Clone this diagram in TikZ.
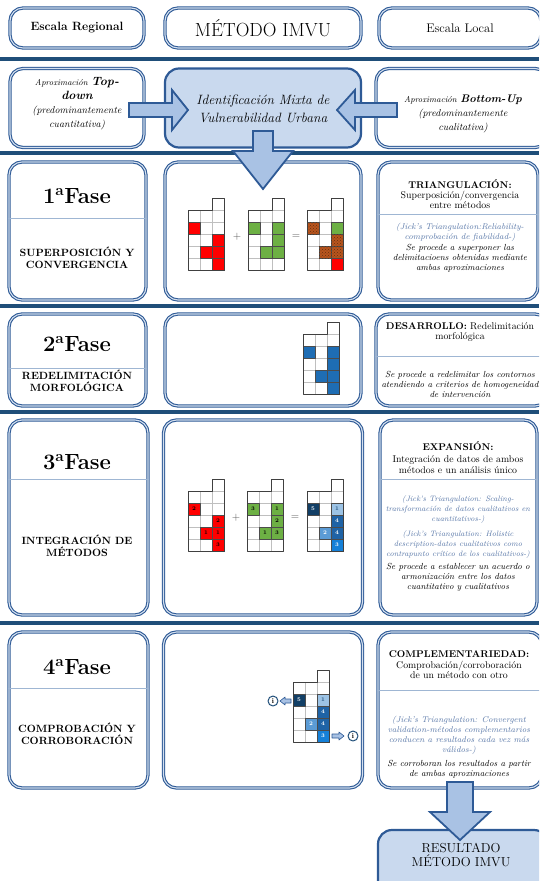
\documentclass[tikz,border=0pt]{standalone}
\usepackage{fontspec}
\usetikzlibrary{patterns}

\definecolor{linea}{HTML}{1F4E79}
\definecolor{borde}{HTML}{2E5A96}
\definecolor{dobleazul}{HTML}{D5E0EF}
\definecolor{relleno}{HTML}{C9D9EE}
\definecolor{flecha}{HTML}{A9C2E4}
\definecolor{sepgris}{HTML}{9FB6D3}
\definecolor{jick}{HTML}{5877A8}
\definecolor{rojo}{HTML}{FF0000}
\definecolor{verdec}{HTML}{6DB044}
\definecolor{cafe}{HTML}{B8551E}
\definecolor{azulf}{HTML}{1E6DB4}
\definecolor{azul5}{HTML}{123F66}
\definecolor{azul1}{HTML}{9CC3E5}
\definecolor{azul4}{HTML}{1F63A6}
\definecolor{azul2}{HTML}{5B9BD5}
\definecolor{azul3}{HTML}{1580D8}

\newcommand{\fsz}[2]{\fontsize{#1}{#2}\selectfont}

% rejilla de celdas: origen x, origen y, lista col/fila/estilo/numero/color
\newcommand{\rejilla}[3]{%
  \draw[gris] (#1+12,#2) -- (#1+12,#2+60) (#1+24,#2-12) -- (#1+24,#2+60);
  \foreach \k in {1,...,4} \draw[gris] (#1,#2+12*\k) -- (#1+36,#2+12*\k);
  \draw[gris] (#1+24,#2) -- (#1+36,#2);
  \foreach \ci/\cj/\col/\num/\tcol in {#3}{
    \draw[\col, celdaborde] (#1+12*\ci-12,#2+12*\cj-12) rectangle ++(12,12);
    \node[numcelda, text=\tcol] (n#1-\ci-\cj) at (#1+12*\ci-6,#2+12*\cj-6) {\num};
  }
  \draw[contorno] (#1,#2) -- (#1+24,#2) -- (#1+24,#2-12) -- (#1+36,#2-12)
    -- (#1+36,#2+60) -- (#1,#2+60) -- cycle;
}

\begin{document}
\begin{tikzpicture}[x=1pt, y=-1pt, line join=round]

\tikzstyle{caja}=[draw=borde, line width=1.1pt, double=dobleazul, double distance=1.1pt, rounded corners=13pt, fill=white, inner sep=0pt]
\tikzstyle{cajallena}=[draw=borde, line width=2.2pt, rounded corners=14pt, fill=relleno, inner sep=0pt]
\tikzstyle{franja}=[draw=linea, line width=3.5pt]
\tikzstyle{separa}=[draw=sepgris, line width=0.6pt]
\tikzstyle{bloque}=[fill=flecha, draw=borde, line width=1.8pt, line join=miter]
\tikzstyle{fase}=[font=\fsz{22}{24}\bfseries]
\tikzstyle{faseinf}=[font=\fsz{10.5}{11.5}\bfseries, align=center]
\tikzstyle{titulo}=[font=\fsz{9.8}{10}, align=center]
\tikzstyle{jicktxt}=[font=\fsz{8.4}{10}\itshape, text=jick, align=center]
\tikzstyle{nota}=[font=\fsz{8.8}{10}\itshape, align=center]
\tikzstyle{gris}=[draw=black!25, line width=0.4pt]
\tikzstyle{contorno}=[draw=black!75, line width=0.8pt]
\tikzstyle{celdaborde}=[draw=black!70, line width=0.5pt]
\tikzstyle{numcelda}=[font=\fsz{5.5}{6}\bfseries, inner sep=0pt]
\tikzstyle{signo}=[font=\fsz{11}{12}, text=black!70]
\tikzstyle{roja}=[fill=rojo]
\tikzstyle{verde}=[fill=verdec]
\tikzstyle{marron}=[fill=cafe, postaction={pattern=crosshatch dots, pattern color=cafe!55!black}]
\tikzstyle{azfase}=[fill=azulf]
\tikzstyle{azcinco}=[fill=azul5]
\tikzstyle{azuno}=[fill=azul1]
\tikzstyle{azcuatro}=[fill=azul4]
\tikzstyle{azdos}=[fill=azul2]
\tikzstyle{aztres}=[fill=azul3]
\tikzstyle{info}=[circle, draw=linea, line width=1pt, fill=white, minimum size=10pt, inner sep=0pt, font=\fsz{7}{7}\bfseries]

\useasboundingbox (0,0) rectangle (539,881);
\clip (0,0) rectangle (539,881);

% cabecera
\node[caja, minimum width=134, minimum height=40] (regional) at (77,28) {};
\node[caja, minimum width=196, minimum height=40] (metodo)   at (263,28) {};
\node[caja, minimum width=162, minimum height=40] (local)    at (460,28) {};
\node[font=\fsz{12}{14}\bfseries] (tregional) at (regional) {Escala Regional};
\node[font=\fsz{19}{21}]          (tmetodo)   at (metodo)   {MÉTODO IMVU};
\node[font=\fsz{12.5}{14}]        (tlocal)    at (local)    {Escala Local};

\draw[franja] (0,59) -- (539,59);
\draw[franja] (0,153) -- (539,153);
\draw[franja] (0,306) -- (539,306);
\draw[franja] (0,412) -- (539,412);
\draw[franja] (0,623) -- (539,623);

% aproximaciones
\node[caja, minimum width=134, minimum height=79] (topdown)  at (77,108) {};
\node[caja, minimum width=172, minimum height=79] (bottomup) at (462,108) {};
\node[cajallena, minimum width=196, minimum height=79] (mixta) at (263,108) {};

\draw[bloque] (129,103) -- (172,103) -- (172,90) -- (188,110) -- (172,130)
  -- (172,117) -- (129,117) -- cycle;
\draw[bloque] (397,103) -- (355,103) -- (355,90) -- (337,110) -- (355,130)
  -- (355,117) -- (397,117) -- cycle;

\node[font=\fsz{10}{14}\itshape, align=center] (ttopdown) at (77,104)
  {{\fsz{8.5}{14}Aproximación} {\fsz{12}{14}\bfseries Top-}\\{\fsz{12}{14}\bfseries down}\\(predominantemente\\cuantitativa)};
\node[font=\fsz{13.5}{18}\itshape, align=center] (tmixta) at (263,109)
  {Identificación Mixta de\\Vulnerabilidad Urbana};
\node[font=\fsz{10}{14}\itshape, align=center] (tbottomup) at (463,114)
  {{\fsz{8.5}{14}Aproximación} {\fsz{11}{14}\bfseries Bottom-Up}\\(predominantemente\\cualitativa)};

% fases: columna izquierda
\node[caja, minimum width=137, minimum height=138] (fase1) at (77.5,231) {};
\node[caja, minimum width=137, minimum height=92]  (fase2) at (77.5,360) {};
\node[caja, minimum width=139, minimum height=195] (fase3) at (78.5,517.5) {};
\node[caja, minimum width=139, minimum height=156] (fase4) at (78.5,710) {};

% columna central
\node[caja, minimum width=196, minimum height=138] (graf1) at (263,231) {};
\node[caja, minimum width=196, minimum height=92]  (graf2) at (263,360) {};
\node[caja, minimum width=199, minimum height=195] (graf3) at (263,517.5) {};
\node[caja, minimum width=199, minimum height=156] (graf4) at (263,710) {};

% columna derecha
\node[caja, minimum width=160, minimum height=138] (der1) at (458,231) {};
\node[caja, minimum width=172, minimum height=92]  (der2) at (462,360) {};
\node[caja, minimum width=157, minimum height=195] (der3) at (458.5,517.5) {};
\node[caja, minimum width=164, minimum height=156] (der4) at (460,710) {};

% separadores
\draw[separa] (fase1.west |- 0,218) -- (fase1.east |- 0,218);
\draw[separa] (fase2.west |- 0,368) -- (fase2.east |- 0,368);
\draw[separa] (fase3.west |- 0,479) -- (fase3.east |- 0,479);
\draw[separa] (fase4.west |- 0,688) -- (fase4.east |- 0,688);
\draw[separa] (der1.west |- 0,214) -- (der1.east |- 0,214);
\draw[separa] (der2.west |- 0,356) -- (der2.east |- 0,356);
\draw[separa] (der3.west |- 0,479) -- (der3.east |- 0,479);
\draw[separa] (der4.west |- 0,690) -- (der4.east |- 0,690);

% textos izquierda
\node[fase] (tf1) at (77,196) {1\textsuperscript{a}Fase};
\node[faseinf] (sf1) at (77,258) {SUPERPOSICIÓN Y\\CONVERGENCIA};
\node[fase] (tf2) at (77,344) {2\textsuperscript{a}Fase};
\node[faseinf] (sf2) at (77,381) {REDELIMITACIÓN\\MORFOLÓGICA};
\node[fase] (tf3) at (77,462) {3\textsuperscript{a}Fase};
\node[faseinf] (sf3) at (77,546) {INTEGRACIÓN DE\\MÉTODOS};
\node[fase] (tf4) at (77,667) {4\textsuperscript{a}Fase};
\node[faseinf] (sf4) at (77,734) {COMPROBACIÓN Y\\CORROBORACIÓN};

% textos derecha
\node[titulo] (h1) at (460,194) {\textbf{TRIANGULACIÓN:}\\Superposición/convergencia\\entre métodos};
\node[jicktxt] (j1) at (460,232) {(Jick's Triangulation:Reliability-\\comprobación de fiabilidad-)};
\node[nota] (p1) at (460,258) {Se procede a superponer las\\delimitacioens obtenidas mediante\\ambas aproximaciones};

\node[titulo] (h2) at (460,332) {\textbf{DESARROLLO:} Redelimitación\\morfológica};
\node[nota] (p2) at (460,384) {Se procede a redelimitar los contornos\\atendiendo a criterios de homogeneidad\\de intervención};

\node[titulo, font=\fsz{9.8}{11.5}] (h3) at (458,458) {\textbf{EXPANSIÓN:}\\Integración de datos de ambos\\métodos e un análisis único};
\node[jicktxt, font=\fsz{7.8}{10}\itshape] (j3a) at (458,510) {(Jick's Triangulation: Scaling-\\transformación de datos cualitativos en\\cuantitativos-)};
\node[jicktxt, font=\fsz{7.8}{10}\itshape] (j3b) at (458,545) {(Jick's Triangulation: Holistic\\description-datos cualitativos como\\contrapunto crítico de los cualitativos-)};
\node[nota] (p3) at (458,577) {Se procede a establecer un acuerdo o\\armonización entre los datos\\cuantitativo y cualitativos};

\node[titulo, font=\fsz{9.8}{10.5}] (h4) at (459,665) {\textbf{COMPLEMENTARIEDAD:}\\Comprobación/corroboración\\de un método con otro};
\node[jicktxt] (j4) at (459,735) {(Jick's Triangulation: Convergent\\validation-métodos complementarios\\conducen a resultados cada vez más\\válidos-)};
\node[nota] (p4) at (459,769) {Se corroboran los resultados a partir\\de ambas aproximaciones};

% flecha hacia la fase 1
\draw[bloque] (253,131) -- (273,131) -- (273,151) -- (293,151) -- (263,189)
  -- (233,151) -- (253,151) -- cycle;

% fase 1
\rejilla{188}{210}{1/2/roja//black, 3/3/roja//black, 2/4/roja//black, 3/4/roja//black, 3/5/roja//black}
\node[signo] (mas1) at (237,237) {+};
\rejilla{248}{210}{1/2/verde//black, 3/2/verde//black, 3/3/verde//black, 2/4/verde//black, 3/4/verde//black}
\node[signo] (igual1) at (296,237) {=};
\rejilla{307}{210}{1/2/marron//black, 3/2/verde//black, 3/3/marron//black, 2/4/marron//black, 3/4/marron//black, 3/5/roja//black}

% fase 2
\rejilla{303}{334}{1/2/azfase//black, 3/2/azfase//black, 3/3/azfase//black, 2/4/azfase//black, 3/4/azfase//black, 3/5/azfase//black}

% fase 3
\rejilla{188}{491}{1/2/roja/2/black, 3/3/roja/2/black, 2/4/roja/1/black, 3/4/roja/1/black, 3/5/roja/3/black}
\node[signo] (mas3) at (236,518) {+};
\rejilla{247}{491}{1/2/verde/3/black, 3/2/verde/1/black, 3/3/verde/2/black, 2/4/verde/1/black, 3/4/verde/3/black}
\node[signo] (igual3) at (295,518) {=};
\rejilla{307}{491}{1/2/azcinco/5/white, 3/2/azuno/1/linea, 3/3/azcuatro/4/white, 2/4/azdos/2/white, 3/4/azcuatro/4/white, 3/5/aztres/3/white}

% fase 4
\rejilla{293}{682}{1/2/azcinco/5/white, 3/2/azuno/1/linea, 3/3/azcuatro/4/white, 2/4/azdos/2/white, 3/4/azcuatro/4/white, 3/5/aztres/3/white}
\node[info] (infoiz) at (273,701) {i};
\node[info] (infode) at (353,736) {i};
\draw[fill=flecha, draw=borde, line width=0.6pt] (291,699) -- (285,699) -- (285,697) -- (280,701)
  -- (285,705) -- (285,703) -- (291,703) -- cycle;
\draw[fill=flecha, draw=borde, line width=0.6pt] (332,734) -- (339,734) -- (339,732) -- (344,736)
  -- (339,740) -- (339,738) -- (332,738) -- cycle;

% resultado
\node[cajallena, minimum width=170, minimum height=70] (resultado) at (463,865) {};
\node[font=\fsz{13}{14}, align=center] (tresultado) at (461,855) {RESULTADO\\MÉTODO IMVU};
\draw[bloque] (447,782) -- (473,782) -- (473,812) -- (490,812) -- (460,840)
  -- (430,812) -- (447,812) -- cycle;

\end{tikzpicture}
\end{document}
